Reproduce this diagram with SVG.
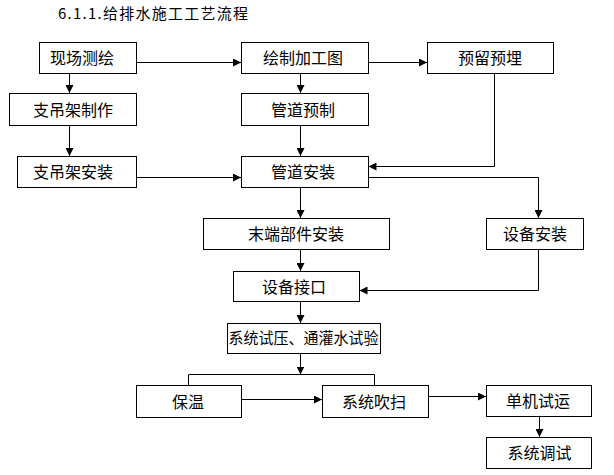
<svg xmlns="http://www.w3.org/2000/svg" width="614" height="475" viewBox="0 0 614 475">
<defs>
<marker id="ah" viewBox="0 0 10 10" refX="10" refY="5" markerWidth="8" markerHeight="8" markerUnits="userSpaceOnUse" orient="auto">
<path d="M0,0 L10,5 L0,10 z" fill="#000"/>
</marker>
<style>
rect{fill:#fff;stroke:#000;stroke-width:1}
text{font-family:"Noto Sans CJK SC","Noto Sans",sans-serif;font-size:16px;fill:#000;text-anchor:middle}
.c{fill:none;stroke:#000;stroke-width:1}
.a{marker-end:url(#ah)}
</style>
</defs>
<rect x="0" y="0" width="614" height="475" style="stroke:none;fill:#fff"/>
<text x="58" y="18.5" style="text-anchor:start;font-size:15px" textLength="190" lengthAdjust="spacing">6.1.1.给排水施工工艺流程</text>
<g id="connectors">
<path class="c a" d="M136.5,62.5 H241"/>
<path class="c a" d="M368.5,62.5 H427"/>
<path class="c a" d="M69.5,73.5 V93"/>
<path class="c a" d="M69.5,125.5 V156"/>
<path class="c a" d="M136.5,177.5 H241"/>
<path class="c a" d="M300.5,73.5 V93"/>
<path class="c a" d="M300.5,125.5 V156"/>
<path class="c a" d="M494.5,73.5 V166.5 H368.5"/>
<path class="c a" d="M368.5,177.5 H538.5 V218"/>
<path class="c a" d="M300.5,187.5 V218"/>
<path class="c a" d="M300.5,249.5 V271"/>
<path class="c a" d="M538.5,249.5 V290.5 H359.5"/>
<path class="c a" d="M300.5,301.5 V323"/>
<path class="c a" d="M300.5,353.5 V374.5"/>
<path class="c" d="M188.5,385 V374.5 H374.5 V385"/>
<path class="c a" d="M241.5,399.5 H322"/>
<path class="c a" d="M428.5,396.5 H486"/>
<path class="c a" d="M539.5,416.5 V437"/>
</g>
<g id="n1"><rect x="39.5" y="42.5" width="97" height="31"/><text x="82" y="64">现场测绘</text></g>
<g id="n2"><rect x="9.5" y="93.5" width="127" height="32"/><text x="73" y="115.5">支吊架制作</text></g>
<g id="n3"><rect x="17.5" y="156.5" width="119" height="31"/><text x="73" y="178">支吊架安装</text></g>
<g id="n4"><rect x="241.5" y="42.5" width="127" height="31"/><text x="303" y="64">绘制加工图</text></g>
<g id="n5"><rect x="241.5" y="93.5" width="127" height="32"/><text x="303" y="115.5">管道预制</text></g>
<g id="n6"><rect x="241.5" y="156.5" width="127" height="31"/><text x="303" y="178">管道安装</text></g>
<g id="n7"><rect x="427.5" y="42.5" width="126" height="31"/><text x="490" y="64">预留预埋</text></g>
<g id="n8"><rect x="203.5" y="218.5" width="186" height="31"/><text x="296" y="240">末端部件安装</text></g>
<g id="n9"><rect x="486.5" y="218.5" width="97" height="31"/><text x="535" y="240">设备安装</text></g>
<g id="n10"><rect x="233.5" y="271.5" width="126" height="30"/><text x="294" y="292.5">设备接口</text></g>
<g id="n11"><rect x="227.5" y="323.5" width="153" height="30"/><text x="303.5" y="344" style="font-size:15.5px" textLength="150" lengthAdjust="spacingAndGlyphs">系统试压、通灌水试验</text></g>
<g id="n12"><rect x="136.5" y="385.5" width="105" height="32"/><text x="188" y="407.5">保温</text></g>
<g id="n13"><rect x="322.5" y="385.5" width="106" height="32"/><text x="374" y="407.5">系统吹扫</text></g>
<g id="n14"><rect x="486.5" y="385.5" width="105" height="31"/><text x="538" y="407">单机试运</text></g>
<g id="n15"><rect x="486.5" y="437.5" width="105" height="31"/><text x="539.5" y="459">系统调试</text></g>
</svg>
